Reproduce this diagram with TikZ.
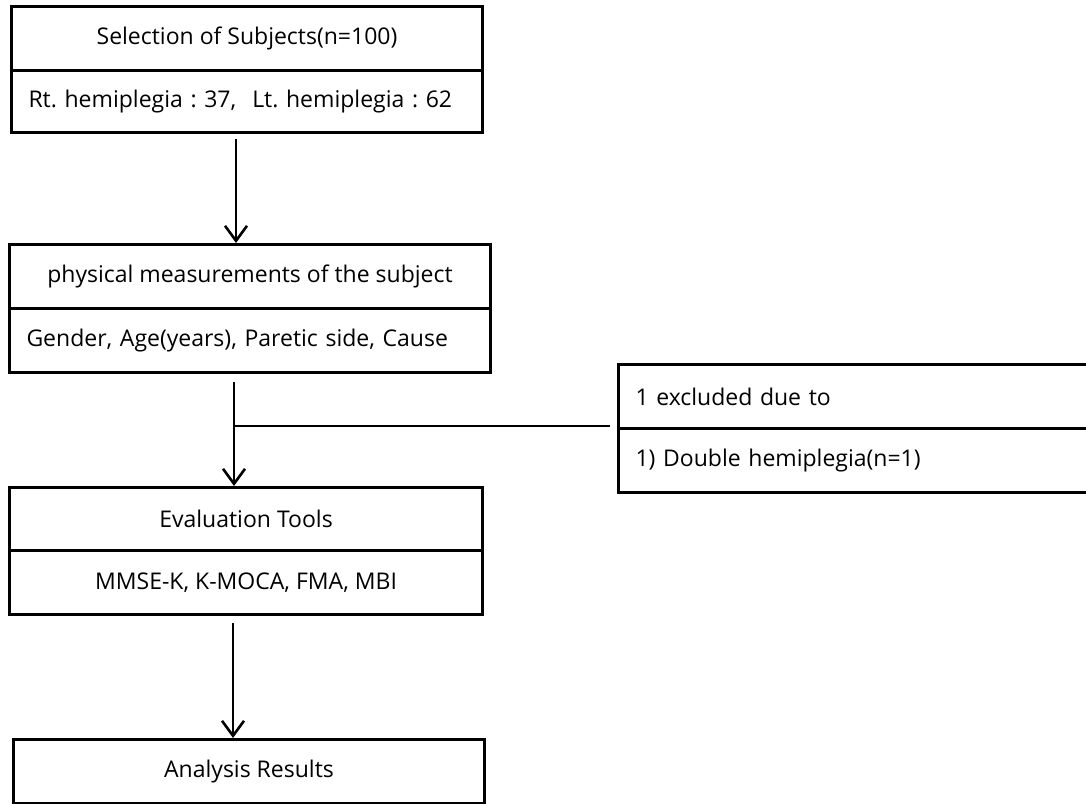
\documentclass[tikz,border=0pt]{standalone}
\usepackage{fontspec}
\setmainfont{Open Sans}
\frenchspacing
\usetikzlibrary{arrows.meta}
\tikzset{
  cell/.style={draw, line width=3pt, inner sep=0pt, anchor=north west,
    font=\fontsize{23}{27}\selectfont},
  lcell/.style={cell, align=left, inner xsep=17pt},
  arr/.style={line width=2.6pt, -{Straight Barb[length=15pt,width=22pt]}},
  conn/.style={line width=2pt}
}
\begin{document}
\begin{tikzpicture}[x=1pt,y=-1pt]
\useasboundingbox (0,0) rectangle (1086,803);
\clip (0,0) rectangle (1086,803);
% box 1
\node[cell, minimum width=471pt, minimum height=64pt] (b1a) at (10,5) {Selection of Subjects(n=100)};
\node[lcell, minimum width=471pt, minimum height=62pt, text width=437pt] (b1b) at (10,69) {\mbox{Rt. hemiplegia : 37,\hspace{16pt}Lt. hemiplegia : 62}};
% box 2
\node[cell, minimum width=481pt, minimum height=64pt] (b2a) at (8,243) {physical measurements of the subject};
\node[lcell, minimum width=481pt, minimum height=64pt, text width=447pt] (b2b) at (8,307) {\mbox{Gender, Age(years), Paretic side, Cause}};
% box 3
\node[cell, minimum width=473pt, minimum height=63pt] (b3a) at (8,486) {Evaluation Tools};
\node[cell, minimum width=473pt, minimum height=64pt] (b3b) at (8,549) {MMSE-K, K-MOCA, FMA, MBI};
% box 4
\node[cell, minimum width=471pt, minimum height=64pt] (b4) at (12,738) {Analysis Results};
% exclusion box
\node[lcell, minimum width=483pt, minimum height=64pt, text width=449pt] (exa) at (617,363) {1 excluded due to};
\node[lcell, minimum width=483pt, minimum height=64pt, text width=449pt] (exb) at (617,427) {1) Double hemiplegia(n=1)};
% connectors
\coordinate (s1) at (236,139);
\coordinate (s2) at (234,382);
\coordinate (s3) at (233,623);
\coordinate (j) at (234,426);
\coordinate (e) at (610,426);
\draw[arr] (s1) -- (s1 |- b2a.north);
\draw[arr] (s2) -- (s2 |- b3a.north);
\draw[arr] (s3) -- (s3 |- b4.north);
\draw[conn] (j) -- (e);
\end{tikzpicture}
\end{document}
